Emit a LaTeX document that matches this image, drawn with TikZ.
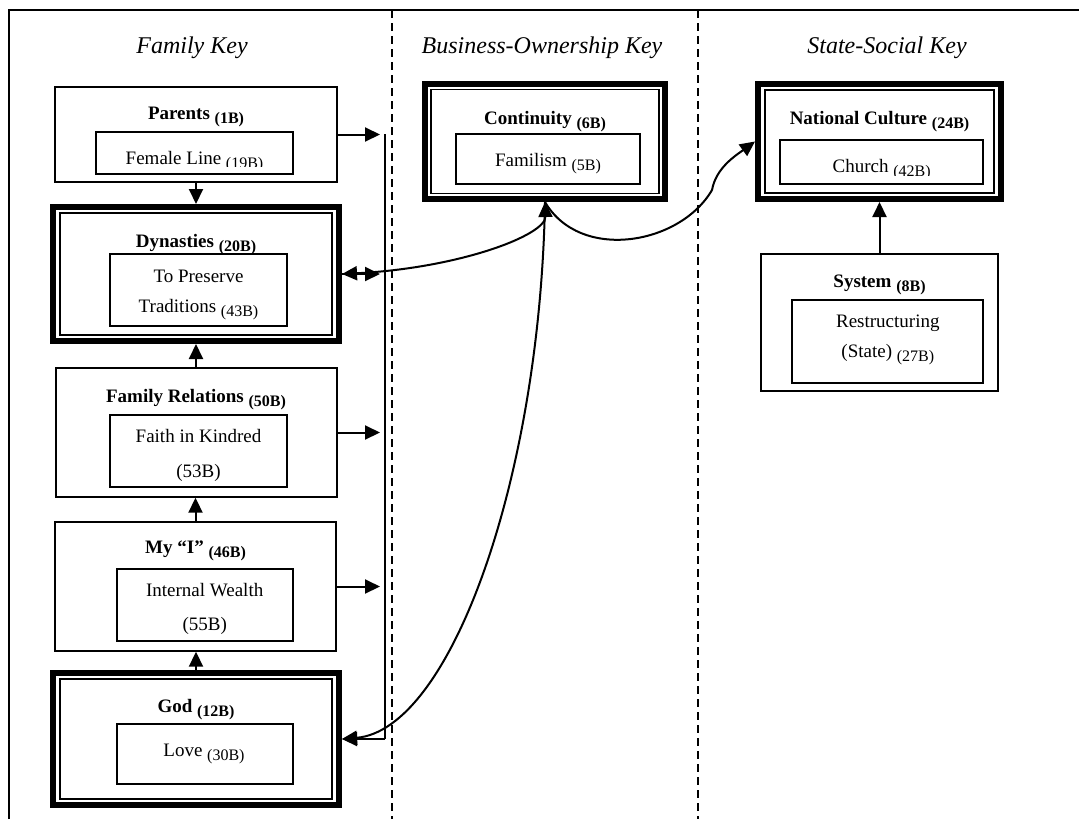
\documentclass[tikz,border=0pt]{standalone}
\usepackage{fontspec}
\setmainfont{Liberation Serif}
\usetikzlibrary{arrows.meta}
\newcommand{\bnum}[1]{\raisebox{-2pt}{\fontsize{8}{9}\selectfont #1}}
\tikzset{
	keytitle/.style={anchor=base, font=\fontsize{12}{14}\selectfont\itshape},
	boxtitle/.style={anchor=base, font=\fontsize{9.5}{11}\selectfont\bfseries},
	boxtext/.style={anchor=base, font=\fontsize{9.5}{11}\selectfont},
	outerbox/.style={draw, line width=0.7pt, inner sep=0pt},
	innerbox/.style={draw, line width=0.8pt, inner sep=0pt},
	keybox/.style={draw, line width=3pt, inner sep=0pt},
	keyframe/.style={draw, line width=0.85pt, inner sep=0pt},
	link/.style={line width=1pt, ->},
	>={Triangle[length=7.5pt,width=7pt]},
	column/.style={line width=0.6pt, dash pattern=on 4pt off 2.5pt}
}
\begin{document}
\begin{tikzpicture}[x=0.5pt, y=-0.5pt]
\useasboundingbox (0,0) rectangle (1079,819);
% frame and columns
\draw[line width=0.9pt] (9,819) -- (9,10) -- (1079,10);
\draw[column] (392,10) -- (392,819);
\draw[column] (698,10) -- (698,819);
\node[keytitle] (famkey) at (192,53) {Family Key};
\node[keytitle] (buskey) at (542,53) {Business-Ownership Key};
\node[keytitle] (statekey) at (887,53) {State-Social Key};

% family key
\node[outerbox, minimum width=141pt, minimum height=47.5pt] (parents) at (196,134.5) {};
\node[boxtitle] (parentsT) at (196,119) {Parents \bnum{(1B)}};
\node[innerbox, minimum width=98.5pt, minimum height=21pt] (femline) at (194.5,153) {};
\begin{scope}
	\clip (femline.north west) rectangle ([yshift=4pt]femline.south east);
	\node[boxtext] (femlineT) at (194.5,164) {Female Line \bnum{(19B)}};
\end{scope}

\node[keybox, minimum width=143pt, minimum height=67pt] (dynasty) at (196,274) {};
\node[keyframe, minimum width=136pt, minimum height=61pt] (dynastyF) at (dynasty) {};
\node[boxtitle] (dynastyT) at (196,247) {Dynasties \bnum{(20B)}};
\node[innerbox, minimum width=88.5pt, minimum height=36pt] (tradition) at (198.5,290) {};
\node[boxtext] (traditionA) at (198.5,282) {To Preserve};
\node[boxtext] (traditionB) at (198.5,312) {Traditions \bnum{(43B)}};

\node[outerbox, minimum width=140.5pt, minimum height=64.5pt] (famrel) at (196.5,432.5) {};
\node[boxtitle] (famrelT) at (196,402) {Family Relations \bnum{(50B)}};
\node[innerbox, minimum width=88.5pt, minimum height=36pt] (kindred) at (198.5,451) {};
\node[boxtext] (kindredA) at (198.5,442) {Faith in Kindred};
\node[boxtext] (kindredB) at (198.5,477) {(53B)};

\node[outerbox, minimum width=140.5pt, minimum height=64.5pt] (myself) at (195.5,586.5) {};
\node[boxtitle] (myselfT) at (195.5,553) {My “I” \bnum{(46B)}};
\node[innerbox, minimum width=88pt, minimum height=36pt] (wealth) at (205,605) {};
\node[boxtext] (wealthA) at (204.7,596) {Internal Wealth};
\node[boxtext] (wealthB) at (204.7,630) {(55B)};

\node[keybox, minimum width=143pt, minimum height=66pt] (god) at (196,739) {};
\node[keyframe, minimum width=136pt, minimum height=60pt] (godF) at (god) {};
\node[boxtitle] (godT) at (196,712) {God \bnum{(12B)}};
\node[innerbox, minimum width=88pt, minimum height=30pt] (love) at (205,754) {};
\node[boxtext] (loveT) at (204,756) {Love \bnum{(30B)}};

% business-ownership key
\node[keybox, minimum width=120pt, minimum height=57.5pt] (cont) at (545,141.5) {};
\node[keyframe, minimum width=114pt, minimum height=52pt] (contF) at (cont) {};
\node[boxtitle] (contT) at (545,124) {Continuity \bnum{(6B)}};
\node[innerbox, minimum width=92pt, minimum height=25pt] (familism) at (548,159) {};
\node[boxtext] (familismT) at (548,166) {Familism \bnum{(5B)}};

% state-social key
\node[keybox, minimum width=121.5pt, minimum height=57.5pt] (nc) at (879.5,141.5) {};
\node[keyframe, minimum width=114.5pt, minimum height=51.5pt] (ncF) at (nc) {};
\node[boxtitle] (ncT) at (879.5,124) {National Culture \bnum{(24B)}};
\node[innerbox, minimum width=101.5pt, minimum height=22pt] (church) at (881.5,162) {};
\begin{scope}
	\clip (church.north west) rectangle ([yshift=4.75pt]church.south east);
	\node[boxtext] (churchT) at (881.7,172) {Church \bnum{(42B)}};
\end{scope}

\node[outerbox, minimum width=118.5pt, minimum height=68.5pt] (system) at (879.5,322.5) {};
\node[boxtitle] (systemT) at (879.5,287) {System \bnum{(8B)}};
\node[innerbox, minimum width=95.5pt, minimum height=41.5pt] (restruct) at (887.5,341.5) {};
\node[boxtext] (restructA) at (887.8,327) {Restructuring};
\node[boxtext] (restructB) at (887.8,357) {(State) \bnum{(27B)}};

% arrows in the family key
\draw[link] (parents.south) -- (dynasty.north);
\draw[link] (famrel.north -| dynasty.south) -- (dynasty.south);
\draw[link] (myself.north) -- (myself.north |- famrel.south);
\draw[link] (god.north) -- (god.north |- myself.south);
\coordinate (bustop) at (385,134);
\coordinate (busbot) at (385,739);
\draw[line width=1pt] (bustop) -- (busbot);
\draw[link] (busbot) -- (god.east);
\draw[link, shorten >=2.5pt] (parents.east) -- (parents.east -| bustop);
\draw[link, shorten >=2.5pt] (dynasty.east) -- (dynasty.east -| bustop);
\draw[link, shorten >=2.5pt] (famrel.east) -- (famrel.east -| bustop);
\draw[link, shorten >=2.5pt] (myself.east) -- (myself.east -| bustop);

% links between keys
\draw[link, <->] (dynasty.east) .. controls (460,268) and (546,235) .. (cont.south);
\draw[link] (cont.south) .. controls (540,480) and (450,730) .. (god.east);
\draw[link] (cont.south) .. controls (580,262) and (680,245) .. (712,190)
	.. controls (716,168) and (735,156) .. (nc.west);
\draw[link] (system.north) -- (nc.south);
\end{tikzpicture}
\end{document}
